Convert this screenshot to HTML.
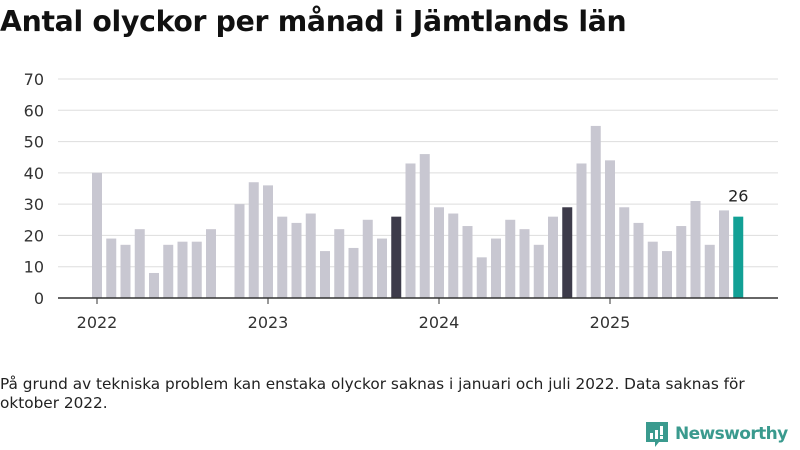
<!DOCTYPE html>
<html><head><meta charset="utf-8"><style>
body{margin:0;width:800px;height:450px;background:#fff;font-family:"Liberation Sans","DejaVu Sans",sans-serif;overflow:hidden;position:relative}
h1{position:absolute;left:0;top:5px;margin:0;font-size:28.3px;font-weight:bold;color:#111;font-family:"DejaVu Sans","Liberation Sans",sans-serif;letter-spacing:-0.3px}
.note{position:absolute;left:0;top:375px;font-size:15.3px;color:#222;line-height:19px;width:790px;font-family:"DejaVu Sans",sans-serif}
.logo{position:absolute;left:644px;top:420px;display:flex;align-items:center;gap:5px;color:#3a9a8e;font-size:17px;font-weight:bold;font-family:"DejaVu Sans",sans-serif;letter-spacing:-0.6px}
</style></head><body>
<h1>Antal olyckor per månad i Jämtlands län</h1>
<svg id="chart" width="800" height="360" style="position:absolute;left:0;top:0"></svg>
<div class="note">På grund av tekniska problem kan enstaka olyckor saknas i januari och juli 2022. Data saknas för oktober 2022.</div>
<div class="logo"><svg width="26" height="28" viewBox="0 0 26 28"><path d="M2 2h22v20H15l-4 5v-5H2z" fill="#3a9a8e"/><rect x="6" y="13" width="3" height="6" fill="#fff"/><rect x="11" y="10" width="3" height="9" fill="#fff"/><rect x="16" y="6" width="3" height="9" fill="#fff"/><rect x="16" y="16" width="3" height="3" fill="#fff"/></svg><span>Newsworthy</span></div>
<script>
const values=[40,19,17,22,8,17,18,18,22,null,30,37,
36,26,24,27,15,22,16,25,19,26,43,46,
29,27,23,13,19,25,22,17,26,29,43,55,
44,29,24,18,15,23,31,17,28,26];
const yTicks=[0,10,20,30,40,50,60,70];
const years=["2022","2023","2024","2025"];
const highlight={21:"#3d3b4a",33:"#3d3b4a",45:"#12a095"};
const svg=document.getElementById('chart');
const NS="http://www.w3.org/2000/svg";
const y=v=>298-v*(219/70);
const x=i=>97+i*14.25;
function mk(t,a){const e=document.createElementNS(NS,t);for(const k in a)e.setAttribute(k,a[k]);svg.appendChild(e);return e;}
yTicks.forEach(t=>{
 if(t>0){const l=mk('line',{x1:58,x2:778,y1:y(t),y2:y(t),stroke:'#ddd','stroke-width':1});
 
 }
 const tx=mk('text',{x:44,y:y(t)+6,'text-anchor':'end','font-size':16,fill:'#333','font-family':'DejaVu Sans,sans-serif'});tx.textContent=t;
 
 
});
values.forEach((v,i)=>{
 if(v==null)return;
 const r=mk('rect',{x:x(i)-5,y:y(v),width:10,height:298-y(v),fill:highlight[i]||'#c8c7d1'});
 
 
});
const last=values.length-1;
const lbl=mk('text',{x:x(last),y:y(values[last])-15,'text-anchor':'middle','font-size':16,fill:'#222','font-family':'DejaVu Sans,sans-serif'});lbl.textContent=values[last];


const ax=mk('line',{x1:58,x2:778,y1:298,y2:298,stroke:'#333','stroke-width':1.5});


years.forEach((yr,k)=>{
 const px=x(k*12);
 const tk=mk('line',{x1:px,x2:px,y1:298,y2:304,stroke:'#333'});
 
 
 const t=mk('text',{x:px,y:328,'text-anchor':'middle','font-size':16,fill:'#333','font-family':'DejaVu Sans,sans-serif'});t.textContent=yr;
 
 
});
</script>
</body></html>
